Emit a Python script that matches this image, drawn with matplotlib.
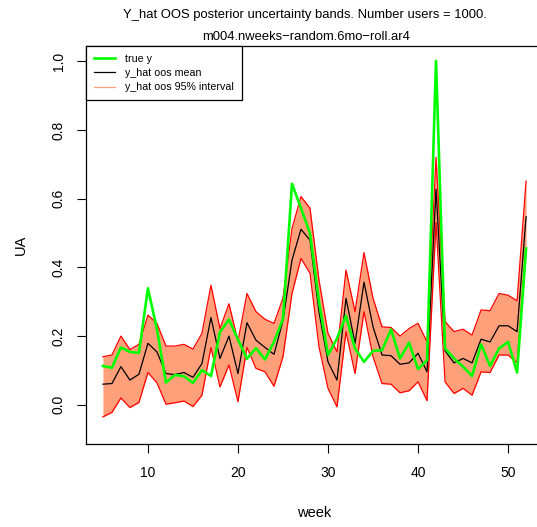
import numpy as np
import matplotlib
matplotlib.use("Agg")
import matplotlib.pyplot as plt

plt.rcParams['font.family'] = ['Liberation Sans', 'DejaVu Sans']

# weeks 5..52
weeks = list(range(5, 53))

true_y = [0.113, 0.108, 0.167, 0.154, 0.151, 0.339, 0.220, 0.065, 0.087, 0.083,
          0.064, 0.101, 0.084, 0.212, 0.248, 0.190, 0.134, 0.165, 0.132, 0.183,
          0.250, 0.643, 0.572, 0.499, 0.300, 0.145, 0.193, 0.259, 0.164, 0.125,
          0.157, 0.159, 0.219, 0.135, 0.181, 0.104, 0.130, 1.001, 0.164, 0.135,
          0.111, 0.084, 0.176, 0.113, 0.164, 0.183, 0.094, 0.455]

yhat_mean = [0.060, 0.062, 0.111, 0.072, 0.089, 0.179, 0.154, 0.091, 0.088, 0.094,
             0.080, 0.120, 0.254, 0.135, 0.200, 0.091, 0.239, 0.188, 0.167, 0.147,
             0.245, 0.421, 0.511, 0.479, 0.270, 0.125, 0.072, 0.310, 0.179, 0.357,
             0.227, 0.145, 0.143, 0.118, 0.122, 0.150, 0.096, 0.627, 0.157, 0.122,
             0.135, 0.122, 0.191, 0.183, 0.230, 0.230, 0.213, 0.547]

yhat_upper = [0.140, 0.145, 0.200, 0.161, 0.176, 0.261, 0.237, 0.171, 0.171, 0.176,
              0.162, 0.208, 0.348, 0.222, 0.294, 0.185, 0.324, 0.271, 0.249, 0.237,
              0.310, 0.513, 0.606, 0.572, 0.363, 0.208, 0.154, 0.392, 0.271, 0.443,
              0.310, 0.227, 0.225, 0.200, 0.222, 0.237, 0.183, 0.720, 0.242, 0.213,
              0.220, 0.203, 0.276, 0.274, 0.324, 0.319, 0.303, 0.651]

yhat_lower = [-0.035, -0.022, 0.020, -0.008, 0.007, 0.094, 0.064, 0.002, 0.006, 0.011,
              -0.005, 0.028, 0.167, 0.052, 0.116, 0.009, 0.167, 0.106, 0.096, 0.054,
              0.140, 0.324, 0.426, 0.383, 0.169, 0.048, -0.006, 0.213, 0.091, 0.271,
              0.140, 0.062, 0.060, 0.035, 0.041, 0.067, 0.012, 0.530, 0.067, 0.033,
              0.048, 0.028, 0.096, 0.094, 0.145, 0.145, 0.122, 0.455]

x_ticks = [10, 20, 30, 40, 50]
y_ticks = [0.0, 0.2, 0.4, 0.6, 0.8, 1.0]

fig = plt.figure(figsize=(5.37, 5.27), dpi=100)
# plot region runs past the right edge of the picture, like the reference
ax = fig.add_axes([86 / 537, 1 - 444 / 527, (543 - 86) / 537, (444 - 45.7) / 527])

ax.fill_between(weeks, yhat_lower, yhat_upper, color='lightsalmon', lw=0)
ax.plot(weeks, yhat_upper, color='red', lw=0.9)
ax.plot(weeks, yhat_lower, color='red', lw=0.9)
ax.plot(weeks, yhat_mean, color='black', lw=0.9)
ax.plot(weeks, true_y, color='#00ff00', lw=1.9)

ax.set_xlim(3.12, 53.88)
ax.set_ylim(-0.114, 1.045)
ax.set_xticks(x_ticks)
ax.set_yticks(y_ticks)
ax.set_yticklabels(['%.1f' % t for t in y_ticks], rotation=90, va='center')
ax.tick_params(direction='out', length=6.5, width=0.8, labelsize=10, pad=9)
ax.tick_params(axis='y', pad=8)
for s in ax.spines.values():
    s.set_linewidth(0.9)

ax.set_xlabel('week', fontsize=10.5, labelpad=19)
ax.set_ylabel('UA', fontsize=10.5, labelpad=17)

fig.text(305 / 537, 1 - 15 / 527, 'Y_hat OOS posterior uncertainty bands. Number users = 1000.',
         ha='center', va='center', fontsize=9.35)
fig.text(306 / 537, 1 - 37 / 527, 'm004.nweeks\u2212random.6mo\u2212roll.ar4',
         ha='center', va='center', fontsize=9.35)

handles = [plt.Line2D([], [], color='#00ff00', lw=1.9),
           plt.Line2D([], [], color='black', lw=0.9),
           plt.Line2D([], [], color='lightsalmon', lw=0.9)]
labels = ['true y', 'y_hat oos mean', 'y_hat oos 95% interval']
leg = ax.legend(handles, labels, loc='upper left', fontsize=7.7, frameon=True,
                fancybox=False, edgecolor='black', framealpha=1,
                borderaxespad=0, handlelength=2.0, handletextpad=0.9,
                labelspacing=0.4, borderpad=0.75)
leg.get_frame().set_linewidth(0.9)

fig.savefig('out.png', dpi=100)
